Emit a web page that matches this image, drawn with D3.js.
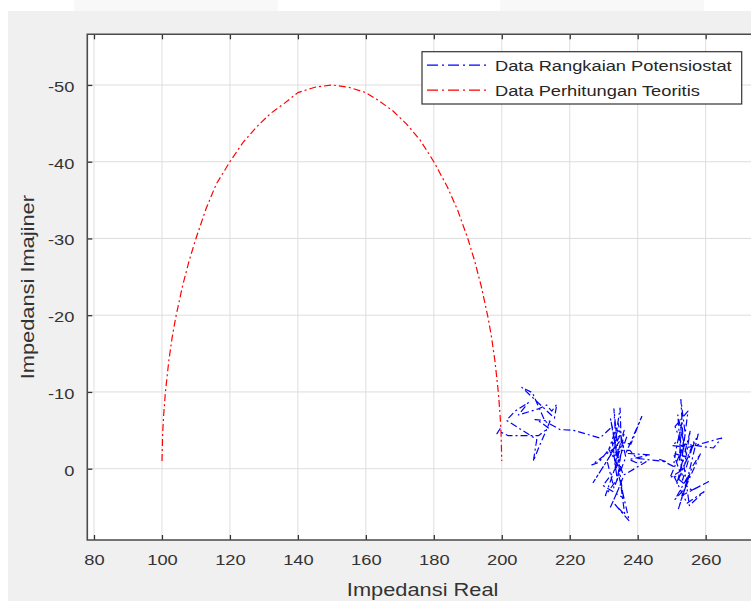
<!DOCTYPE html>
<html>
<head>
<meta charset="utf-8">
<script src="https://cdn.jsdelivr.net/npm/d3@7"></script>
<style>
    body { margin: 0; background: #fff; }
    svg { display: block; font-family: "Liberation Sans", Arial, sans-serif; }
    .wide { transform-box: fill-box; transform-origin: center; transform: scaleX(1.18); }
    .y-axis .tick text { transform-box: fill-box; transform-origin: right center; transform: scaleX(1.18); }
    .x-axis .tick text { transform-box: fill-box; transform-origin: center; transform: scaleX(1.18); }
</style>
</head>
<body>
<svg></svg>
<script>
// red: computed (theoretical) impedance, [Z real, Z imag]
const teoriReal = [100.01, 100.2, 100.5, 101, 102, 103, 104, 106, 108, 110, 113, 116, 120, 124, 128, 132, 136, 140, 145,
    150, 155, 160, 164, 168, 172, 176, 180, 184, 187, 190, 192, 194, 196, 197, 198, 199, 199.5, 199.8, 199.99];
const teoriImag = [-1.0, -4.5, -7.0, -9.9, -14.0, -17.1, -19.6, -23.7, -27.1, -30.0, -33.9, -37.1, -40.0, -42.6, -44.6, -46.3, -47.6, -49.0, -49.7,
    -50.0, -49.7, -49.0, -47.9, -46.6, -44.9, -42.8, -40.0, -36.7, -33.7, -30.0, -27.1, -23.7, -19.6, -17.1, -14.0, -9.9, -7.0, -4.5, -1.0];

// blue: measured data from the potentiostat circuit
const ukurReal = [198.5, 199.5, 200.0, 201.9, 210.8, 213.7, 211.7, 209.8, 214.2, 212.7, 211.2, 209.3, 210.3, 201.4, 203.9, 207.8,
    204.9, 210.8, 213.2, 214.7, 216.2, 215.5, 205.9, 209.0, 212.7, 217.1, 221.1, 228.9,
    232.5, 233.8, 232.0, 234.5, 233.0, 233.5, 234.8, 235.2, 233.2, 236.0, 234.0, 232.5, 235.5, 231.5, 234.2, 236.5, 233.0, 231.0,
    235.0, 228.5, 226.5, 233.5, 226.9, 234.5, 238.0, 241.2, 236.5, 243.6, 237.5, 239.5, 242.5, 236.0, 234.0, 232.0, 235.0, 236.2,
    233.0, 237.5, 234.5, 230.5, 234.2, 235.8, 229.8, 233.8, 236.8, 234.0, 232.8, 235.4, 237.7,
    239.7, 248.5, 246.5, 250.5, 251.5, 253.0, 252.2, 254.0, 252.7, 253.5, 251.0, 254.8, 252.5, 250.5, 254.5, 251.8, 253.2, 256.5,
    251.5, 255.5, 253.8, 257.8, 254.0, 251.0, 255.0, 252.0, 256.0, 258.5, 253.0, 260.8, 255.9, 250.5, 254.5, 259.5, 255.2, 252.5,
    250.2, 255.0, 264.7, 262.3, 254.0, 252.3, 249.5, 253.6];
const ukurImag = [-4.5, -5.2, -4.7, -4.3, -4.3, -5.3, -6.0, -6.4, -6.2, -4.6, -3.1, -1.0, -3.8, -6.3, -7.5, -8.6,
    -7.0, -7.8, -8.3, -7.5, -8.4, -6.6, -10.6, -9.9, -6.2, -5.1, -5.0, -4.0,
    -5.5, -2.0, -6.5, -1.0, -7.8, -4.0, -7.9, -3.0, -0.5, -5.0, 1.5, -3.5, 0.5, -2.5, -6.0, -1.5, 2.5, -1.0,
    -4.5, -0.8, -0.5, -2.8, 1.8, -3.5, -3.2, -6.8, -2.0, -1.8, -1.2, -0.8, -0.9, 0.8, 3.0, 5.0, 2.0, 6.0,
    4.5, 6.8, 1.0, 3.5, -1.2, 3.8, 2.2, -0.2, -4.2, -5.0, -1.6, -2.4, -2.4,
    -1.35, -0.9, -1.2, -0.3, -3.0, -6.0, -1.0, -4.5, -9.0, -2.5, -5.5, -7.5, 0.5, -2.0, -1.5, -7.0, 1.5, -3.5,
    2.0, -5.0, -0.5, -4.5, 2.5, 4.0, 0.8, 5.2, -0.2, -2.0, 3.5, 1.7, 2.8, 0.8, 4.5, 3.0, 4.8, -4.0,
    -3.0, -2.8, -4.0, -2.7, -3.2, -1.8, 1.2, 0.0];

const xTicks = [80, 100, 120, 140, 160, 180, 200, 220, 240, 260];
const yTicks = [-50, -40, -30, -20, -10, 0];
const legendLabels = ["Data Rangkaian Potensiostat", "Data Perhitungan Teoritis"];
const seriesColors = ["#0000ff", "#ff0000"];

const width = 751;
const height = 601;
const box = { left: 87.3, top: 34.3, right: 758, bottom: 540 };

const xScale = d3.scaleLinear()
    .domain([78.03, 275.4])
    .range([box.left, box.right]);

// reversed: negative imaginary values at the top
const yScale = d3.scaleLinear()
    .domain([-56.6, 9.29])
    .range([box.top, box.bottom]);

const line = d3.line()
    .x(d => xScale(d[0]))
    .y(d => yScale(d[1]));

const svg = d3.select("svg")
    .attr("width", width)
    .attr("height", height);

// figure window background
svg.append("rect").attr("width", width).attr("height", height).attr("fill", "#fff");
[[74, 278], [500, 704]].forEach(([a, b]) => {
    svg.append("rect").attr("x", a).attr("y", 0).attr("width", b - a).attr("height", 11).attr("fill", "#f8f8f8");
});
svg.append("rect")
    .attr("x", 8).attr("y", 11)
    .attr("width", width - 8).attr("height", height - 11)
    .attr("fill", "#f0f0f0");

svg.append("rect")
    .attr("x", box.left).attr("y", box.top)
    .attr("width", box.right - box.left).attr("height", box.bottom - box.top)
    .attr("fill", "#fff");

svg.append("clipPath").attr("id", "plot")
    .append("rect")
    .attr("x", box.left).attr("y", box.top)
    .attr("width", box.right - box.left).attr("height", box.bottom - box.top);

// grid
const grid = svg.append("g").attr("stroke", "#dedede").attr("stroke-width", 1);
grid.selectAll("line.gx")
    .data(xTicks)
    .enter().append("line")
    .attr("x1", d => xScale(d)).attr("x2", d => xScale(d))
    .attr("y1", box.top).attr("y2", box.bottom);
grid.selectAll("line.gy")
    .data(yTicks)
    .enter().append("line")
    .attr("y1", d => yScale(d)).attr("y2", d => yScale(d))
    .attr("x1", box.left).attr("x2", box.right);

// series
const plot = svg.append("g").attr("clip-path", "url(#plot)");

const createLine = (xs, ys, color) => {
    plot.append("path")
        .datum(xs.map((x, i) => [x, ys[i]]))
        .attr("fill", "none")
        .attr("stroke", color)
        .attr("stroke-width", 1.2)
        .attr("stroke-dasharray", "7,3,2,3")
        .attr("stroke-linejoin", "round")
        .attr("d", line);
};

createLine(teoriReal, teoriImag, seriesColors[1]);
createLine(ukurReal, ukurImag, seriesColors[0]);

// axes (plain hyphen for negatives, like the original)
const fmt = d => String(d);

svg.append("g")
    .attr("class", "x-axis")
    .attr("transform", `translate(0, ${box.bottom})`)
    .call(d3.axisBottom(xScale).tickValues(xTicks).tickFormat(fmt).tickSizeInner(-5).tickSizeOuter(0).tickPadding(14));

svg.append("g")
    .attr("transform", `translate(0, ${box.top})`)
    .call(d3.axisTop(xScale).tickValues(xTicks).tickSizeInner(-5).tickSizeOuter(0).tickFormat(""));

svg.append("g")
    .attr("class", "y-axis")
    .attr("transform", `translate(${box.left}, 0)`)
    .call(d3.axisLeft(yScale).tickValues(yTicks).tickFormat(fmt).tickSizeInner(-5).tickSizeOuter(0).tickPadding(13));

svg.selectAll(".domain").remove();
svg.selectAll(".tick line").attr("stroke", "#333").attr("stroke-width", 1.3);
svg.selectAll(".tick text")
    .attr("fill", "#333")
    .attr("font-size", 15.5)
    .attr("font-family", "'Liberation Sans', Arial, sans-serif");
svg.selectAll(".y-axis .tick text").attr("dy", "0.42em");

svg.append("path")
    .attr("d", `M${box.right},${box.top}H${box.left}V${box.bottom}H${box.right}`)
    .attr("fill", "none")
    .attr("stroke", "#4a4a4a")
    .attr("stroke-width", 1.6);

// axis titles
svg.append("text")
    .attr("class", "wide")
    .attr("x", (box.left + box.right) / 2)
    .attr("y", 596)
    .attr("text-anchor", "middle")
    .attr("font-size", 18.5)
    .attr("fill", "#333")
    .text("Impedansi Real");

svg.append("g")
    .attr("transform", `translate(33.5, ${(box.top + box.bottom) / 2}) rotate(-90)`)
    .append("text")
    .attr("class", "wide")
    .attr("text-anchor", "middle")
    .attr("font-size", 18.5)
    .attr("fill", "#333")
    .text("Impedansi Imajiner");

// legend
const legend = svg.append("g").attr("transform", "translate(422, 51.7)");
legend.append("rect")
    .attr("width", 319.7).attr("height", 52.3)
    .attr("fill", "#fff")
    .attr("stroke", "#333")
    .attr("stroke-width", 1.2);

legendLabels.forEach((label, i) => {
    const y = 13.5 + i * 25;
    legend.append("line")
        .attr("x1", 5).attr("x2", 67)
        .attr("y1", y).attr("y2", y)
        .attr("stroke", seriesColors[i])
        .attr("stroke-width", 1.2)
        .attr("stroke-dasharray", "11,4,2,4");
    legend.append("text")
        .attr("x", 73).attr("y", y + 5.5)
        .attr("font-size", 15.5)
        .attr("fill", "#262626")
        .style("transform-box", "fill-box")
        .style("transform-origin", "left center")
        .style("transform", "scaleX(1.18)")
        .text(label);
});
</script>
</body>
</html>
